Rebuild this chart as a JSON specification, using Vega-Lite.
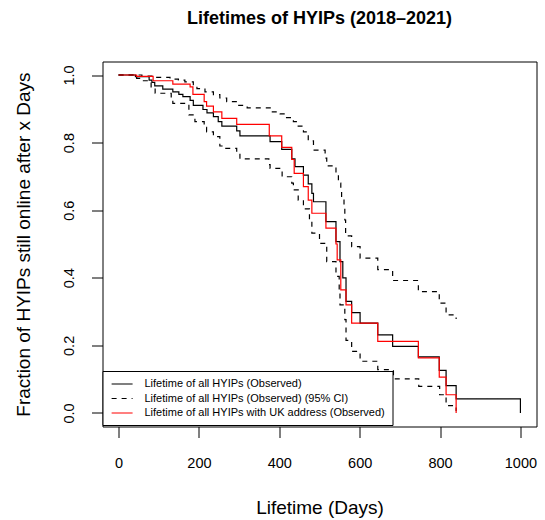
{
  "$schema": "https://vega.github.io/schema/vega-lite/v6.json",
  "width": 434,
  "height": 365,
  "autosize": {"type": "none"},
  "padding": {"left": 102.5, "top": 61.5, "right": 8.5, "bottom": 93.5},
  "background": "white",
  "title": {"text": "Lifetimes of HYIPs (2018–2021)", "fontSize": 18, "fontWeight": "bold", "font": "Liberation Sans", "anchor": "middle", "baseline": "alphabetic", "offset": 19.5, "color": "black"},
  "config": {
    "view": {"stroke": "black", "strokeWidth": 1},
    "axis": {"domain": false, "grid": false, "tickColor": "black", "tickSize": 11, "tickWidth": 1, "labelColor": "black", "labelFont": "Liberation Sans", "labelFontSize": 14.5, "titleFont": "Liberation Sans", "titleFontSize": 19, "titleFontWeight": "normal", "titleColor": "black"}
  },
  "data": {"values": [
    {"s":"A","c":"obs","t":0,"v":1.0},{"s":"A","c":"obs","t":42,"v":0.995},{"s":"A","c":"obs","t":76,"v":0.985},{"s":"A","c":"obs","t":83,"v":0.978},{"s":"A","c":"obs","t":90,"v":0.968},{"s":"A","c":"obs","t":110,"v":0.958},{"s":"A","c":"obs","t":135,"v":0.950},{"s":"A","c":"obs","t":150,"v":0.943},{"s":"A","c":"obs","t":160,"v":0.936},{"s":"A","c":"obs","t":178,"v":0.925},{"s":"A","c":"obs","t":186,"v":0.910},{"s":"A","c":"obs","t":210,"v":0.898},{"s":"A","c":"obs","t":220,"v":0.888},{"s":"A","c":"obs","t":236,"v":0.877},{"s":"A","c":"obs","t":248,"v":0.862},{"s":"A","c":"obs","t":257,"v":0.849},{"s":"A","c":"obs","t":294,"v":0.835},{"s":"A","c":"obs","t":302,"v":0.820},{"s":"A","c":"obs","t":377,"v":0.803},{"s":"A","c":"obs","t":406,"v":0.780},{"s":"A","c":"obs","t":431,"v":0.752},{"s":"A","c":"obs","t":439,"v":0.729},{"s":"A","c":"obs","t":460,"v":0.704},{"s":"A","c":"obs","t":472,"v":0.678},{"s":"A","c":"obs","t":481,"v":0.650},{"s":"A","c":"obs","t":485,"v":0.625},{"s":"A","c":"obs","t":516,"v":0.566},{"s":"A","c":"obs","t":541,"v":0.507},{"s":"A","c":"obs","t":551,"v":0.448},{"s":"A","c":"obs","t":558,"v":0.400},{"s":"A","c":"obs","t":566,"v":0.330},{"s":"A","c":"obs","t":580,"v":0.297},{"s":"A","c":"obs","t":601,"v":0.266},{"s":"A","c":"obs","t":645,"v":0.231},{"s":"A","c":"obs","t":682,"v":0.197},{"s":"A","c":"obs","t":746,"v":0.166},{"s":"A","c":"obs","t":798,"v":0.126},{"s":"A","c":"obs","t":815,"v":0.081},{"s":"A","c":"obs","t":840,"v":0.042},{"s":"A","c":"obs","t":1000,"v":0.0},
    {"s":"B","c":"up","t":0,"v":1.0},{"s":"B","c":"up","t":58,"v":0.997},{"s":"B","c":"up","t":95,"v":0.993},{"s":"B","c":"up","t":128,"v":0.988},{"s":"B","c":"up","t":149,"v":0.985},{"s":"B","c":"up","t":165,"v":0.980},{"s":"B","c":"up","t":186,"v":0.968},{"s":"B","c":"up","t":195,"v":0.960},{"s":"B","c":"up","t":215,"v":0.950},{"s":"B","c":"up","t":236,"v":0.942},{"s":"B","c":"up","t":252,"v":0.932},{"s":"B","c":"up","t":269,"v":0.921},{"s":"B","c":"up","t":297,"v":0.910},{"s":"B","c":"up","t":320,"v":0.903},{"s":"B","c":"up","t":381,"v":0.891},{"s":"B","c":"up","t":402,"v":0.885},{"s":"B","c":"up","t":418,"v":0.874},{"s":"B","c":"up","t":435,"v":0.862},{"s":"B","c":"up","t":447,"v":0.849},{"s":"B","c":"up","t":460,"v":0.832},{"s":"B","c":"up","t":472,"v":0.805},{"s":"B","c":"up","t":485,"v":0.778},{"s":"B","c":"up","t":514,"v":0.754},{"s":"B","c":"up","t":518,"v":0.731},{"s":"B","c":"up","t":541,"v":0.704},{"s":"B","c":"up","t":547,"v":0.680},{"s":"B","c":"up","t":553,"v":0.660},{"s":"B","c":"up","t":555,"v":0.633},{"s":"B","c":"up","t":561,"v":0.611},{"s":"B","c":"up","t":563,"v":0.571},{"s":"B","c":"up","t":565,"v":0.524},{"s":"B","c":"up","t":580,"v":0.492},{"s":"B","c":"up","t":601,"v":0.458},{"s":"B","c":"up","t":645,"v":0.424},{"s":"B","c":"up","t":682,"v":0.392},{"s":"B","c":"up","t":746,"v":0.359},{"s":"B","c":"up","t":798,"v":0.325},{"s":"B","c":"up","t":815,"v":0.290},{"s":"B","c":"up","t":840,"v":0.278},
    {"s":"B","c":"lo","t":0,"v":1.0},{"s":"B","c":"lo","t":45,"v":0.990},{"s":"B","c":"lo","t":58,"v":0.983},{"s":"B","c":"lo","t":81,"v":0.961},{"s":"B","c":"lo","t":91,"v":0.946},{"s":"B","c":"lo","t":131,"v":0.925},{"s":"B","c":"lo","t":135,"v":0.916},{"s":"B","c":"lo","t":175,"v":0.882},{"s":"B","c":"lo","t":190,"v":0.862},{"s":"B","c":"lo","t":213,"v":0.845},{"s":"B","c":"lo","t":219,"v":0.832},{"s":"B","c":"lo","t":236,"v":0.818},{"s":"B","c":"lo","t":252,"v":0.790},{"s":"B","c":"lo","t":265,"v":0.783},{"s":"B","c":"lo","t":294,"v":0.770},{"s":"B","c":"lo","t":302,"v":0.752},{"s":"B","c":"lo","t":374,"v":0.735},{"s":"B","c":"lo","t":377,"v":0.724},{"s":"B","c":"lo","t":407,"v":0.699},{"s":"B","c":"lo","t":431,"v":0.680},{"s":"B","c":"lo","t":435,"v":0.660},{"s":"B","c":"lo","t":447,"v":0.630},{"s":"B","c":"lo","t":460,"v":0.604},{"s":"B","c":"lo","t":475,"v":0.566},{"s":"B","c":"lo","t":481,"v":0.532},{"s":"B","c":"lo","t":500,"v":0.502},{"s":"B","c":"lo","t":518,"v":0.448},{"s":"B","c":"lo","t":541,"v":0.404},{"s":"B","c":"lo","t":549,"v":0.364},{"s":"B","c":"lo","t":551,"v":0.320},{"s":"B","c":"lo","t":563,"v":0.276},{"s":"B","c":"lo","t":566,"v":0.215},{"s":"B","c":"lo","t":580,"v":0.182},{"s":"B","c":"lo","t":601,"v":0.153},{"s":"B","c":"lo","t":645,"v":0.128},{"s":"B","c":"lo","t":684,"v":0.101},{"s":"B","c":"lo","t":747,"v":0.079},{"s":"B","c":"lo","t":799,"v":0.054},{"s":"B","c":"lo","t":815,"v":0.022},{"s":"B","c":"lo","t":840,"v":0.006},
    {"s":"C","c":"uk","t":0,"v":1.0},{"s":"C","c":"uk","t":45,"v":0.996},{"s":"C","c":"uk","t":86,"v":0.983},{"s":"C","c":"uk","t":135,"v":0.973},{"s":"C","c":"uk","t":178,"v":0.965},{"s":"C","c":"uk","t":185,"v":0.943},{"s":"C","c":"uk","t":213,"v":0.921},{"s":"C","c":"uk","t":219,"v":0.908},{"s":"C","c":"uk","t":236,"v":0.891},{"s":"C","c":"uk","t":257,"v":0.872},{"s":"C","c":"uk","t":294,"v":0.854},{"s":"C","c":"uk","t":375,"v":0.820},{"s":"C","c":"uk","t":406,"v":0.786},{"s":"C","c":"uk","t":431,"v":0.750},{"s":"C","c":"uk","t":437,"v":0.709},{"s":"C","c":"uk","t":460,"v":0.670},{"s":"C","c":"uk","t":472,"v":0.630},{"s":"C","c":"uk","t":481,"v":0.591},{"s":"C","c":"uk","t":516,"v":0.547},{"s":"C","c":"uk","t":541,"v":0.500},{"s":"C","c":"uk","t":544,"v":0.453},{"s":"C","c":"uk","t":553,"v":0.364},{"s":"C","c":"uk","t":566,"v":0.320},{"s":"C","c":"uk","t":580,"v":0.266},{"s":"C","c":"uk","t":645,"v":0.212},{"s":"C","c":"uk","t":746,"v":0.163},{"s":"C","c":"uk","t":798,"v":0.106},{"s":"C","c":"uk","t":815,"v":0.054},{"s":"C","c":"uk","t":840,"v":0.0}
  ]},
  "transform": [
    {"lookup": "s", "from": {"data": {"values": [
      {"s": "A", "name": "Lifetime of all HYIPs (Observed)"},
      {"s": "B", "name": "Lifetime of all HYIPs (Observed) (95% CI)"},
      {"s": "C", "name": "Lifetime of all HYIPs with UK address (Observed)"}
    ]}, "key": "s", "fields": ["name"]}}
  ],
  "mark": {"type": "line", "interpolate": "step-after", "strokeWidth": 1.2, "clip": true},
  "encoding": {
    "x": {"field": "t", "type": "quantitative", "scale": {"domain": [-40, 1040], "nice": false, "zero": false},
      "axis": {"values": [0, 200, 400, 600, 800, 1000], "format": "d", "title": "Lifetime (Days)", "labelBaseline": "alphabetic", "labelPadding": 30, "titleBaseline": "alphabetic", "titleY": 86.5}},
    "y": {"field": "v", "type": "quantitative", "scale": {"domain": [-0.04, 1.04], "nice": false, "zero": false},
      "axis": {"values": [0, 0.2, 0.4, 0.6, 0.8, 1.0], "format": ".1f", "title": "Fraction of HYIPs still online after x Days", "labelAngle": -90, "labelAlign": "center", "labelBaseline": "alphabetic", "labelPadding": 18, "titleAngle": -90, "titleBaseline": "alphabetic", "titleX": -73}},
    "color": {"field": "name", "type": "nominal",
      "scale": {"domain": ["Lifetime of all HYIPs (Observed)", "Lifetime of all HYIPs (Observed) (95% CI)", "Lifetime of all HYIPs with UK address (Observed)"], "range": ["black", "black", "#ff0000"]},
      "legend": {"orient": "none", "legendX": 0, "legendY": 309.5, "title": null, "direction": "vertical", "fillColor": "white", "strokeColor": "black", "padding": 7, "symbolType": "M-2,0H2", "symbolSize": 110, "symbolStrokeWidth": 1.2, "symbolOffset": 6.6, "labelOffset": 16.4, "labelFontSize": 11, "labelFont": "Liberation Sans", "labelColor": "black", "rowPadding": 3.5, "labelLimit": 400, "cornerRadius": 0}},
    "strokeDash": {"field": "name", "type": "nominal",
      "scale": {"domain": ["Lifetime of all HYIPs (Observed)", "Lifetime of all HYIPs (Observed) (95% CI)", "Lifetime of all HYIPs with UK address (Observed)"], "range": [[1, 0], [5, 5], [1, 0]]},
      "legend": {"orient": "none", "legendX": 0, "legendY": 309.5, "title": null, "direction": "vertical", "fillColor": "white", "strokeColor": "black", "padding": 7, "symbolType": "M-2,0H2", "symbolSize": 110, "symbolStrokeWidth": 1.2, "symbolOffset": 6.6, "labelOffset": 16.4, "labelFontSize": 11, "labelFont": "Liberation Sans", "labelColor": "black", "rowPadding": 3.5, "labelLimit": 400, "cornerRadius": 0}},
    "detail": {"field": "c"}
  }
}
